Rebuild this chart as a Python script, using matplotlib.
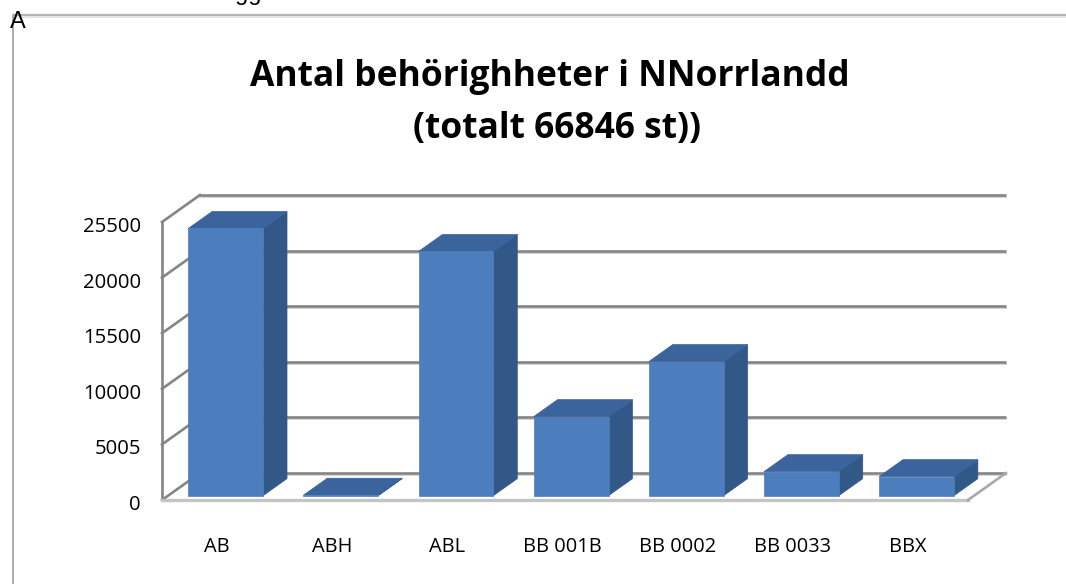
import matplotlib
matplotlib.use("Agg")
import matplotlib.pyplot as plt
from matplotlib.patches import Polygon
from matplotlib.lines import Line2D
import matplotlib.transforms as mtransforms

# data
categories = ["AB", "ABH", "ABL", "BB 001B", "BB 0002", "BB 0033", "BBX"]
counts = [24030, 40, 21960, 7110, 12060, 2160, 1710]
tick_values = [0, 5000, 10000, 15000, 20000, 25000]
tick_labels = ["0", "5005", "10000", "15500", "20000", "25500"]
title_1 = "Antal behörighheter i NNorrlandd"
title_2 = "(totalt 66846 st))"

# fake 3d look
DX = 0.33      # depth in category units
DY = 2428      # depth in value units
F1, F2 = 0.16, 0.79   # bar front / back depth
W = 0.65

c_front = "#4c7ebe"
c_top = "#3b639c"
c_side = "#325888"
grid_c = "#858585"

W_PX, H_PX = 1066, 584
fig = plt.figure(figsize=(W_PX / 100, H_PX / 100), dpi=100)
fig.patch.set_facecolor("white")

ax = fig.add_axes([162 / W_PX, 84 / H_PX, 806 / W_PX, 278 / H_PX])
ax.set_xlim(-0.5, len(categories) - 0.5)
ax.set_ylim(0, 25000)
ax.axis("off")

x_left = -0.5
x_right = len(categories) - 0.5
shadow = mtransforms.offset_copy(ax.transData, fig=fig, x=0, y=-2, units="dots")

# back wall gridlines
for v in tick_values:
    ax.plot([x_left + DX, x_right + DX], [v + DY, v + DY], color="#d6d6d6", lw=1.5,
            transform=shadow, clip_on=False, zorder=1)
    ax.plot([x_left + DX, x_right + DX], [v + DY, v + DY], color=grid_c, lw=1.9,
            clip_on=False, zorder=2, solid_capstyle="butt")
    # left wall
    ax.plot([x_left, x_left + DX], [v, v + DY], color=grid_c, lw=1.9,
            clip_on=False, zorder=2)
ax.plot([x_left, x_left], [0, tick_values[-1]], color=grid_c, lw=1.9, clip_on=False, zorder=2)

# floor
ax.plot([x_left, x_right], [0, 0], color="#c4c4c4", lw=2.4, clip_on=False, zorder=2)
ax.plot([x_right, x_right + DX], [0, DY], color="#a8a8a8", lw=1.9, clip_on=False, zorder=2)

# bars
d = F2 - F1
for i, v in enumerate(counts):
    x0 = i - W / 2 + F1 * DX
    y0 = F1 * DY
    front = [(x0, y0), (x0 + W, y0), (x0 + W, y0 + v), (x0, y0 + v)]
    top = [(x0, y0 + v), (x0 + W, y0 + v), (x0 + W + d * DX, y0 + v + d * DY),
           (x0 + d * DX, y0 + v + d * DY)]
    side = [(x0 + W, y0), (x0 + W + d * DX, y0 + d * DY),
            (x0 + W + d * DX, y0 + v + d * DY), (x0 + W, y0 + v)]
    ax.add_patch(Polygon(side, closed=True, facecolor=c_side, edgecolor=c_side, lw=0.5,
                         clip_on=False, zorder=3))
    ax.add_patch(Polygon(top, closed=True, facecolor=c_top, edgecolor=c_top, lw=0.5,
                         clip_on=False, zorder=3))
    ax.add_patch(Polygon(front, closed=True, facecolor=c_front, edgecolor=c_front, lw=0.5,
                         clip_on=False, zorder=4))

# tick labels
ytr = mtransforms.offset_copy(ax.transData, fig=fig, x=-21, y=-5, units="dots")
for v, lab in zip(tick_values, tick_labels):
    ax.text(x_left, v, lab, transform=ytr, ha="right", va="center",
            fontsize=14.6, family="Open Sans", color="black")

xtr = mtransforms.offset_copy(ax.transData, fig=fig, x=-3, y=-47, units="dots")
for i, lab in enumerate(categories):
    ax.text(i, 0, lab, transform=xtr, ha="center", va="center",
            fontsize=14.4, family="Open Sans", color="black")

# title
fig.text(550 / W_PX, 1 - 86 / H_PX, title_1, ha="center", va="baseline",
         fontsize=25.5, fontweight="bold", family="Open Sans")
fig.text(557 / W_PX, 1 - 138 / H_PX, title_2, ha="center", va="baseline",
         fontsize=25.5, fontweight="bold", family="Open Sans")

# frame bits around the chart
fig.add_artist(Line2D([14 / W_PX, 1], [1 - 15 / H_PX] * 2, transform=fig.transFigure,
                      color="#b4b4b4", lw=1.6))
fig.add_artist(Line2D([14 / W_PX, 1], [1 - 17 / H_PX] * 2, transform=fig.transFigure,
                      color="#e2e2e2", lw=1.2))
fig.add_artist(Line2D([13 / W_PX] * 2, [0, 1 - 15 / H_PX], transform=fig.transFigure,
                      color="#a6a6a6", lw=1.3))
fig.text(10 / W_PX, 1 - 28 / H_PX, "A", ha="left", va="baseline", fontsize=17,
         family="Liberation Sans")
fig.text(235 / W_PX, 1 + 0 / H_PX, "gg", ha="left", va="baseline", fontsize=17,
         family="Liberation Sans")

fig.savefig("out.png", dpi=100, facecolor="white")
